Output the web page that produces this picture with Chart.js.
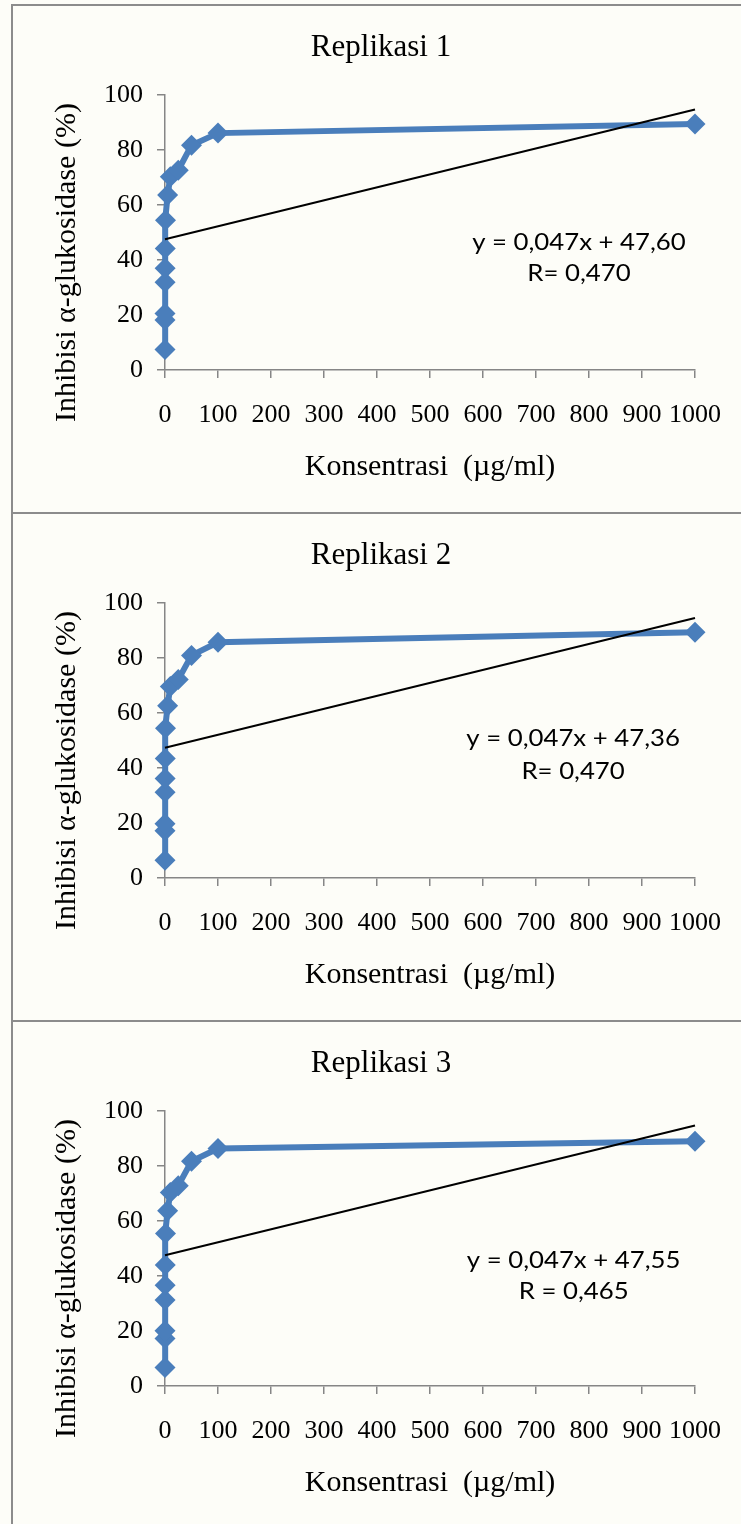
<!DOCTYPE html>
<html>
<head>
<meta charset="utf-8">
<script src="https://cdn.jsdelivr.net/npm/chart.js@4.4.0/dist/chart.umd.min.js"></script>
<style>
  body { margin: 0; background: #fdfdf8; width: 741px; height: 1524px; overflow: hidden; position: relative; }
  .ln { position: absolute; background: #8c8c8c; z-index: 2; }
  .panel { position: absolute; left: 13px; width: 736px; height: 506px; }
</style>
</head>
<body>
<div class="ln" style="left:11px;top:4px;width:730px;height:2px"></div>
<div class="ln" style="left:11px;top:4px;width:2px;height:1520px"></div>
<div class="ln" style="left:11px;top:512px;width:730px;height:2px"></div>
<div class="ln" style="left:11px;top:1020px;width:730px;height:2px"></div>
<div class="panel" style="top:6px"><canvas id="c1" width="736" height="506"></canvas></div>
<div class="panel" style="top:514px"><canvas id="c2" width="736" height="506"></canvas></div>
<div class="panel" style="top:1022px"><canvas id="c3" width="736" height="506"></canvas></div>
<script>
// konsentrasi (µg/ml)
const xConc = [0.01, 0.025, 0.05, 0.1, 0.25, 0.5, 1, 5, 10, 25, 50, 100, 1000];
// % inhibisi tiap replikasi
const inhib1 = [7.5, 18.2, 20.6, 31.9, 37.0, 44.2, 54.5, 63.7, 70.3, 72.7, 81.8, 86.2, 89.5];
const inhib2 = [6.5, 17.2, 19.7, 31.2, 36.2, 43.5, 54.5, 62.7, 69.7, 72.2, 81.0, 85.8, 89.4];
const inhib3 = [6.7, 17.3, 20.1, 31.3, 36.7, 44.0, 55.5, 63.8, 70.4, 72.9, 81.8, 86.4, 89.1];
// garis tren linear (ujung kiri & kanan)
const trendX = [0, 1000];
const trend1 = [47.6, 94.8];
const trend2 = [47.4, 94.6];
const trend3 = [47.6, 94.8];
const xTicks = [0, 100, 200, 300, 400, 500, 600, 700, 800, 900, 1000];
const yTicks = [0, 20, 40, 60, 80, 100];
const titles = ['Replikasi 1', 'Replikasi 2', 'Replikasi 3'];
const equations = [
  ['y = 0,047x + 47,60', 'R= 0,470'],
  ['y = 0,047x + 47,36', 'R= 0,470'],
  ['y = 0,047x + 47,55', 'R = 0,465']
];

const BLUE = '#4a7ebb';
const GREY = '#868686';
const serif = 'Liberation Serif';

// teks persamaan regresi, ditaruh pada koordinat data
const eqPlugin = {
  id: 'eq',
  afterDatasetsDraw(chart, args, opts) {
    const { ctx, scales: { x, y } } = chart;
    ctx.save();
    ctx.font = '23px Lato';
    ctx.fillStyle = '#000';
    ctx.textAlign = 'center';
    ctx.textBaseline = 'middle';
    opts.lines.forEach((t, i) => {
      const px = x.getPixelForValue(opts.pos[i][0]);
      const py = y.getPixelForValue(opts.pos[i][1]);
      ctx.save();
      ctx.translate(px, py);
      ctx.scale(1.12, 1);
      ctx.fillText(t, 0, 0);
      ctx.restore();
    });
    ctx.restore();
  }
};

function makeChart(id, title, values, trend, eqLines, eqPos) {
  const ctx = document.getElementById(id).getContext('2d');
  return new Chart(ctx, {
    type: 'line',
    data: {
      datasets: [
        {
          data: trendX.map((v, i) => ({ x: v, y: trend[i] })),
          borderColor: '#000', borderWidth: 2, pointRadius: 0,
          clip: false, order: 0
        },
        {
          data: xConc.map((v, i) => ({ x: v, y: values[i] })),
          borderColor: BLUE, backgroundColor: BLUE, borderWidth: 6,
          pointStyle: 'rectRot', pointRadius: 10.5, pointBorderWidth: 0,
          tension: 0,
          clip: false, order: 1
        }
      ]
    },
    options: {
      responsive: false,
      animation: false,
      layout: { autoPadding: false, padding: 0 },
      plugins: {
        legend: { display: false },
        tooltip: { enabled: false },
        title: {
          display: true, text: title, color: '#000',
          font: { family: serif, size: 31, weight: 'normal' },
          padding: { top: 23, bottom: 29 }
        },
        eq: { lines: eqLines, pos: eqPos }
      },
      scales: {
        x: {
          type: 'linear', min: 0, max: 1000,
          afterBuildTicks: s => { s.ticks = xTicks.map(v => ({ value: v })); },
          afterFit: s => { s.height = 142; },
          border: { color: GREY, width: 1.5 },
          grid: { drawOnChartArea: false, drawTicks: true, tickLength: 8, color: GREY, lineWidth: 1.5 },
          ticks: {
            color: '#000', padding: 22, maxRotation: 0, autoSkip: false,
            font: { family: serif, size: 26 }, callback: v => String(v)
          },
          title: {
            display: true, text: 'Konsentrasi  (µg/ml)', color: '#000',
            font: { family: serif, size: 30 }, padding: { bottom: 27 }
          }
        },
        y: {
          min: 0, max: 100,
          afterBuildTicks: s => { s.ticks = yTicks.map(v => ({ value: v })); },
          afterFit: s => { s.width = 152; },
          border: { color: GREY, width: 1.5 },
          grid: { drawOnChartArea: false, drawTicks: true, tickLength: 8, color: GREY, lineWidth: 1.5 },
          ticks: { color: '#000', padding: 14, font: { family: serif, size: 26 } },
          title: {
            display: true, text: 'Inhibisi α-glukosidase (%)\u2003\u2003', color: '#000',
            font: { family: serif, size: 30 }, padding: { top: 36 }
          }
        },
        // sumbu kosong di kanan, hanya untuk ruang kosong
        y2: {
          position: 'right', display: true,
          grid: { display: false }, border: { display: false }, ticks: { display: false },
          afterFit: s => { s.width = 54; }
        }
      }
    },
    plugins: [eqPlugin]
  });
}

makeChart('c1', titles[0], inhib1, trend1, equations[0], [[781, 46.3], [781, 35.2]]);
makeChart('c2', titles[1], inhib2, trend2, equations[1], [[770, 50.9], [770, 38.6]]);
makeChart('c3', titles[2], inhib3, trend3, equations[2], [[771, 45.7], [771, 34.4]]);
</script>
</body>
</html>
